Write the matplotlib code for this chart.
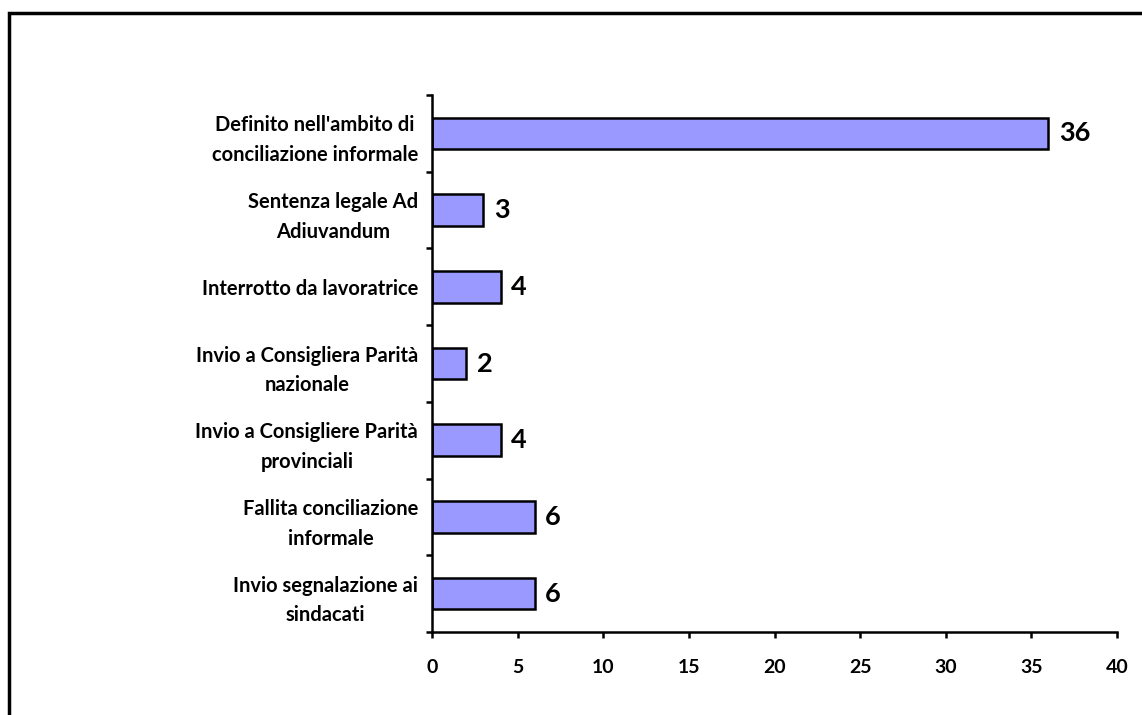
import matplotlib.pyplot as plt
import numpy as np
from matplotlib.patches import Rectangle

# dati
categorie = ["Definito nell'ambito di\nconciliazione informale",
             "Sentenza legale Ad\nAdiuvandum",
             "Interrotto da lavoratrice",
             "Invio a Consigliera Parità\nnazionale",
             "Invio a Consigliere Parità\nprovinciali",
             "Fallita conciliazione\ninformale",
             "Invio segnalazione ai\nsindacati"]
valori = [36, 3, 4, 2, 4, 6, 6]
xticks = [0, 5, 10, 15, 20, 25, 30, 35, 40]

plt.rcParams['font.family'] = ['Lato', 'DejaVu Sans']

fig = plt.figure(figsize=(11.42, 7.15), dpi=100)
ax = fig.add_axes([0.3783, 0.1161, 0.5998, 0.7510])

n = len(categorie)
pos = np.arange(n)[::-1]  # primo in alto
ax.barh(pos, valori, height=0.41, color='#9999FF', edgecolor='black', linewidth=1.8)

for p, v in zip(pos, valori):
    ax.text(v + 0.6, p, str(v), va='center', ha='left', fontsize=19.5, fontweight='bold')

ax.set_xlim(0, 40)
ax.set_ylim(-0.5, n - 0.5)
ax.set_xticks(xticks)
ax.set_xticklabels([str(t) for t in xticks], fontsize=14, fontweight='bold')

# tick tra le categorie, etichette al centro
ax.set_yticks(np.arange(-0.5, n, 1.0))
ax.set_yticklabels([])
ax.set_yticks(pos, minor=True)
ax.set_yticklabels(categorie, minor=True, fontsize=14.5, fontweight='bold',
                   ha='right', multialignment='center', linespacing=1.6)
ax.tick_params(axis='y', which='minor', length=0, pad=10)
ax.tick_params(axis='y', which='major', length=4.5, width=1.8)
ax.tick_params(axis='x', length=4.5, width=1.8, pad=15)

ax.spines['top'].set_visible(False)
ax.spines['right'].set_visible(False)
ax.spines['left'].set_linewidth(1.8)
ax.spines['bottom'].set_linewidth(1.8)

# cornice esterna
fig.patches.append(Rectangle((0.008, -0.2), 1.2, 1.182, transform=fig.transFigure,
                             fill=False, edgecolor='black', linewidth=2.5))

fig.savefig('out.png', dpi=100)
